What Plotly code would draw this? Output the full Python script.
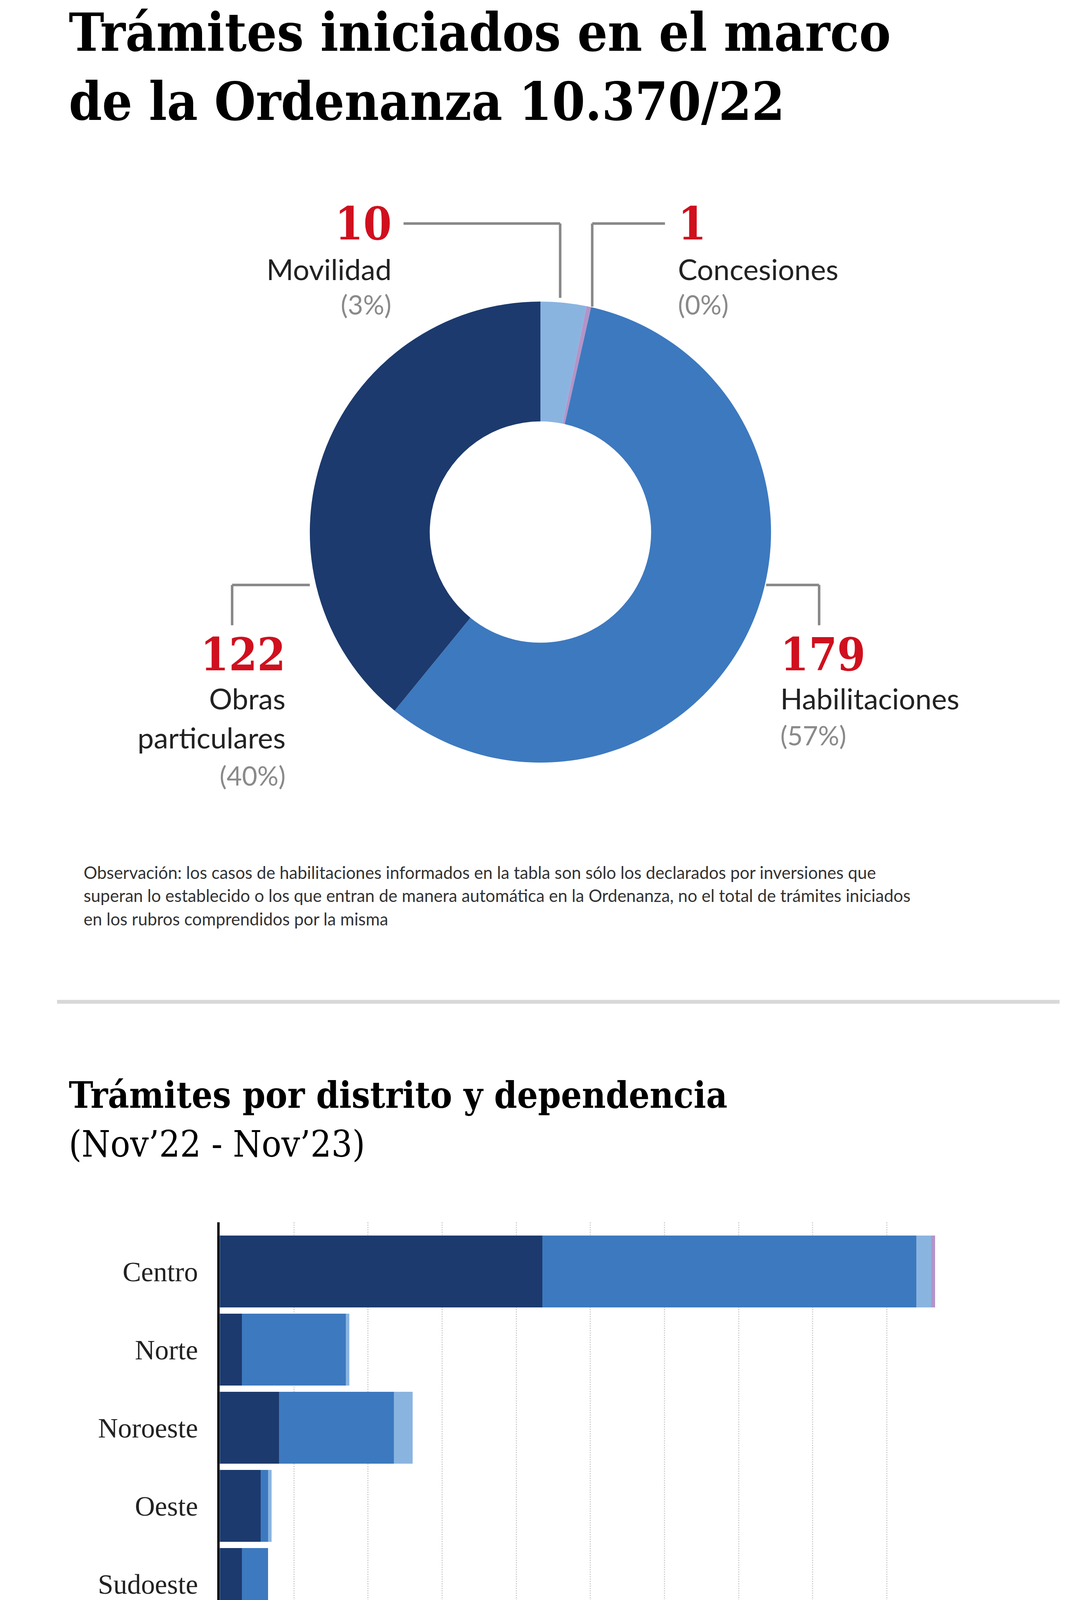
import plotly.graph_objects as go

# ---- data ----
donut_labels = ["Movilidad", "Concesiones", "Habilitaciones", "Obras particulares"]
donut_values = [10, 1, 179, 122]
districts = ["Centro", "Norte", "Noroeste", "Oeste", "Sudoeste", "Sur"]
obras = [87, 6, 16, 11, 6, 2]
habil = [101, 28, 31, 2, 7, 10]
movil = [4, 1, 5, 1, 0, 0]
conces = [1, 0, 0, 0, 0, 0]
x_ticks = [0, 20, 40, 60, 80, 100, 120, 140, 160, 180]

C_OBR, C_HAB, C_MOV, C_CON = "#1c3a6e", "#3d79bf", "#8ab4e0", "#b394c8"
RED, GRAY = "#d0101e", "#8a8a8a"
W, H = 2792, 5055
S = W / 866.0

def px(xd): return xd * S / W
def py(yd): return 1 - yd * S / H

fig = go.Figure()
fig.add_trace(go.Pie(labels=donut_labels, values=donut_values, hole=0.48, sort=False,
                     direction="clockwise", rotation=0, textinfo="none", showlegend=False,
                     marker=dict(colors=[C_MOV, C_CON, C_HAB, C_OBR], line=dict(width=0)),
                     domain=dict(x=[px(230), px(604)], y=[py(607), py(233)])))

for name, vals, col in [("Obras particulares", obras, C_OBR), ("Habilitaciones", habil, C_HAB),
                        ("Movilidad", movil, C_MOV), ("Concesiones", conces, C_CON)]:
    fig.add_trace(go.Bar(y=districts, x=vals, orientation="h", name=name, marker_color=col,
                         marker_line_width=0, showlegend=False, xaxis="x", yaxis="y"))

ann = []
shapes = []
def T(xd, yd, text, size, color="#111", xa="left", font="Lato", ya="middle"):
    ann.append(dict(x=px(xd), y=py(yd), xref="paper", yref="paper", text=text, showarrow=False,
                    xanchor=xa, yanchor=ya, align=xa, font=dict(size=size * S, color=color, family=font)))
def L(x0, y0, x1, y1, color="#888", w=2):
    shapes.append(dict(type="line", xref="paper", yref="paper", x0=px(x0), y0=py(y0), x1=px(x1), y1=py(y1),
                       line=dict(color=color, width=w * S)))

T(34, 23, "<b>Trámites iniciados en el marco</b>", 42, "#000", font="DejaVu Serif Condensed")
T(34, 78, "<b>de la Ordenanza 10.370/22</b>", 42, "#000", font="DejaVu Serif Condensed")

# donut labels
T(297, 175, "<b>10</b>", 36, RED, "right", "DejaVu Serif Condensed")
T(297, 211, "Movilidad", 23, "#222", "right")
T(297, 239, "(3%)", 21, GRAY, "right")
T(528, 175, "<b>1</b>", 36, RED, "left", "DejaVu Serif Condensed")
T(528, 211, "Concesiones", 23, "#222", "left")
T(528, 239, "(0%)", 21, GRAY, "left")
T(211, 517, "<b>122</b>", 36, RED, "right", "DejaVu Serif Condensed")
T(211, 552, "Obras", 23, "#222", "right")
T(211, 583, "particulares", 23, "#222", "right")
T(211, 613, "(40%)", 21, GRAY, "right")
T(611, 517, "<b>179</b>", 36, RED, "left", "DejaVu Serif Condensed")
T(611, 552, "Habilitaciones", 23, "#222", "left")
T(611, 581, "(57%)", 21, GRAY, "left")
L(306, 175, 433, 175); L(433, 175, 433, 234)
L(518, 175, 459, 175); L(459, 175, 459, 241)
L(167, 462, 230, 462); L(167, 462, 167, 494)
L(600, 462, 643, 462); L(643, 462, 643, 494)

obs = ["Observación: los casos de habilitaciones informados en la tabla son sólo los declarados por inversiones que",
       "superan lo establecido o los que entran de manera automática en la Ordenanza, no el total de trámites iniciados",
       "en los rubros comprendidos por la misma"]
for i, t in enumerate(obs):
    T(46, 690 + i * 18.5, t, 13.5, "#333")
L(25, 793, 838, 793, "#d8d8d8", 3)

T(34, 867, "<b>Trámites por distrito y dependencia</b>", 29, "#000", font="DejaVu Serif Condensed")
T(34, 906, "(Nov’22 - Nov’23)", 29, "#000", font="DejaVu Serif Condensed")

# legend
leg = [(65, "Obras particulares", C_OBR), (295, "Habilitaciones", C_HAB),
       (485, "Movilidad", C_MOV), (630, "Concesiones", C_CON)]
for xd, t, c in leg:
    shapes.append(dict(type="rect", xref="paper", yref="paper", x0=px(xd), x1=px(xd + 21),
                       y0=py(1467), y1=py(1446), fillcolor=c, line=dict(width=0)))
    T(xd + 31, 1457, t, 20, "#222")

# footer
L(0, 1519, 866, 1519, "#000", 3)
T(18, 1541, "<b>FUENTE: AGENCIA CONTRA EL LAVADO DE ACTIVOS</b>", 13.5, "#000", font="DejaVu Serif Condensed")
T(18, 1558, "<b>DE ORIGEN DELICTIVO (MUNICIPALIDAD DE ROSARIO</b>", 13.5, "#000", font="DejaVu Serif Condensed")
T(855, 1550, "<b>INFOGRAFÍA LA CAPITAL</b>", 13.5, "#000", "right", font="DejaVu Serif Condensed")

fig.update_layout(
    width=W, height=H, margin=dict(l=0, r=0, t=0, b=0), paper_bgcolor="white", plot_bgcolor="white",
    barmode="stack", bargap=0.08, annotations=ann, shapes=shapes,
    xaxis=dict(domain=[px(157), px(157) + (737 - 157) * S / W * 194 / 193], range=[0, 194],
               tickvals=x_ticks, showgrid=True, gridcolor="#d0d0d0", griddash="dot", gridwidth=3,
               zeroline=False, showline=False, ticks="", ticklabelshift=-45,
               tickfont=dict(size=17 * S, color=GRAY, family="Roboto Condensed, Lato"),
               anchor="y"),
    yaxis=dict(domain=[py(1375), py(968)], range=[5.93, -0.63], autorange=False, showgrid=False,
               showline=True, linecolor="#000", linewidth=2 * S, ticks="", ticksuffix="  ",
               tickfont=dict(size=22 * S, color="#222", family="Liberation Serif"), anchor="x"),
)
fig.write_html("out.html")
